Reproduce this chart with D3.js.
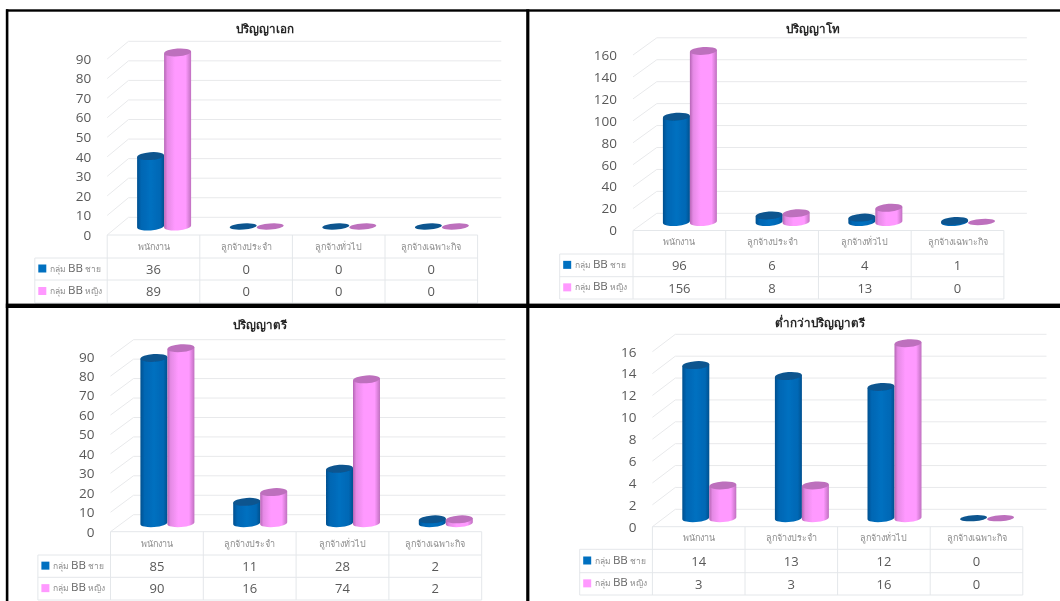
<!DOCTYPE html>
<html lang="th">
<head>
<meta charset="UTF-8">
<title>ระดับการศึกษา</title>
<script src="https://d3js.org/d3.v7.min.js"></script>
<style>
    body { margin: 0; background: #fff; }
    svg { display: block; }
    .axis-y text { font: 13.5px "Open Sans", sans-serif; fill: #595959; }
    .title { font: bold 11.6px "Noto Sans", sans-serif; fill: #262626; text-anchor: middle; }
    .cat { font: 9px "Noto Sans", sans-serif; fill: #8c8c8c; text-anchor: middle; }
    .num { font: 13px "Open Sans", sans-serif; fill: #595959; text-anchor: middle; }
    .key { font: 8.5px "Noto Sans", sans-serif; fill: #8c8c8c; }
    .key .bb { font: 11.5px "Open Sans", sans-serif; fill: #666; }
    .grid { stroke: #e8e9eb; stroke-width: 1; fill: none; }
    .cell { stroke: #e4e7ea; stroke-width: 1; fill: none; }
</style>
</head>
<body>
<svg width="1060" height="601"></svg>
<script>
// Data
const categories = ["พนักงาน", "ลูกจ้างประจำ", "ลูกจ้างทั่วไป", "ลูกจ้างเฉพาะกิจ"];
const seriesKeys = ["male", "female"];
const seriesNames = [["กลุ่ม ", "BB", " ชาย"], ["กลุ่ม ", "BB", " หญิง"]];
const titles = ["ปริญญาเอก", "ปริญญาโท", "ปริญญาตรี", "ต่ำกว่าปริญญาตรี"];
const male = [[36, 0, 0, 0], [96, 6, 4, 1], [85, 11, 28, 2], [14, 13, 12, 0]];
const female = [[89, 0, 0, 0], [156, 8, 13, 0], [90, 16, 74, 2], [3, 3, 16, 0]];
const ticks = [
    [0, 10, 20, 30, 40, 50, 60, 70, 80, 90],
    [0, 20, 40, 60, 80, 100, 120, 140, 160],
    [0, 10, 20, 30, 40, 50, 60, 70, 80, 90],
    [0, 2, 4, 6, 8, 10, 12, 14, 16]
];

// Where each panel sits on the page
const layout = [
    { titleX: 265, titleY: 33, head: 34.8, left: 107.2, right: 477.6, back: 128.5, backRight: 501.3, y0: 235, yTop: 59, depth: 17.7, rows: [235, 258, 280, 303] },
    { titleX: 813.3, titleY: 33, head: 559.7, left: 633, right: 1003.9, back: 656.8, backRight: 1026.9, y0: 230.5, yTop: 55, depth: 17.2, rows: [230.5, 254, 276.7, 299] },
    { titleX: 259.6, titleY: 329, head: 37.9, left: 110.5, right: 481.7, back: 133.5, backRight: 505.4, y0: 531.7, yTop: 356.7, depth: 17, rows: [531.7, 555, 577.3, 600] },
    { titleX: 820, titleY: 327, head: 579.7, left: 652.4, right: 1022.8, back: 675.3, backRight: 1046.5, y0: 526.7, yTop: 351.7, depth: 17.4, rows: [526.7, 549.3, 572.7, 595] }
];

const colors = { male: "#0070c0", female: "#ff99ff" };
const lids = { male: "#0a548f", female: "#bd6fbd" };
const ry = 3.9, tiltDeg = -4;

const svg = d3.select("svg");
const defs = svg.append("defs");

// Slightly soft, the reference is a scanned picture
defs.append("filter").attr("id", "soft")
    .attr("filterUnits", "userSpaceOnUse")
    .attr("x", 0).attr("y", 0).attr("width", 1060).attr("height", 601)
    .append("feGaussianBlur").attr("stdDeviation", 0.6);

const gradStops = {
    male: [[0, "#07508f"], [0.15, "#0066b3"], [0.5, "#0070c0"], [0.85, "#0068b5"], [1, "#05508f"]],
    female: [[0, "#b565b5"], [0.12, "#e58ae5"], [0.4, "#ff99ff"], [0.8, "#ff99ff"], [1, "#c070c0"]]
};
seriesKeys.forEach(k => {
    const grad = defs.append("linearGradient").attr("id", "body-" + k);
    gradStops[k].forEach(s => grad.append("stop").attr("offset", s[0]).attr("stop-color", s[1]));
});

const root = svg.append("g").attr("filter", "url(#soft)");

layout.forEach((p, i) => {
    const g = root.append("g");
    const values = { male: male[i], female: female[i] };
    const maxTick = d3.max(ticks[i]);

    const y = d3.scaleLinear().domain([0, maxTick]).range([p.y0, p.yTop]);
    const x = d3.scaleBand().domain(categories).range([p.left, p.right]);
    const xs = d3.scaleBand().domain(seriesKeys).range([0, 54]);
    const barY = v => y(v) - 8.5;
    const groupShift = 29.9;

    g.append("text").attr("class", "title").attr("x", p.titleX).attr("y", p.titleY).text(titles[i]);

    // Back wall and left wall lines
    g.selectAll(".back-line").data(ticks[i]).enter().append("line")
        .attr("class", "grid")
        .attr("x1", p.back).attr("x2", p.backRight)
        .attr("y1", d => y(d) - p.depth).attr("y2", d => y(d) - p.depth);
    g.selectAll(".side-line").data(ticks[i]).enter().append("line")
        .attr("class", "grid")
        .attr("x1", p.left).attr("x2", p.back)
        .attr("y1", d => y(d)).attr("y2", d => y(d) - p.depth);

    // Y axis, labels only
    g.append("g")
        .attr("class", "axis-y")
        .attr("transform", "translate(" + p.left + ",0)")
        .call(d3.axisLeft(y).tickValues(ticks[i]).tickSize(0).tickPadding(16))
        .call(a => a.select(".domain").remove());

    // Data table
    const table = g.append("g");
    table.append("line").attr("class", "cell").attr("x1", p.left).attr("x2", p.right).attr("y1", p.rows[0]).attr("y2", p.rows[0]);
    p.rows.slice(1).forEach(r => {
        table.append("line").attr("class", "cell").attr("x1", p.head).attr("x2", p.right).attr("y1", r).attr("y2", r);
    });
    table.append("line").attr("class", "cell").attr("x1", p.head).attr("x2", p.head).attr("y1", p.rows[1]).attr("y2", p.rows[3]);
    categories.forEach(c => {
        table.append("line").attr("class", "cell").attr("x1", x(c)).attr("x2", x(c)).attr("y1", p.rows[0]).attr("y2", p.rows[3]);
    });
    table.append("line").attr("class", "cell").attr("x1", p.right).attr("x2", p.right).attr("y1", p.rows[0]).attr("y2", p.rows[3]);

    table.selectAll(".cat").data(categories).enter().append("text")
        .attr("class", "cat")
        .attr("x", d => x(d) + x.bandwidth() / 2)
        .attr("y", (p.rows[0] + p.rows[1]) / 2)
        .attr("dy", "0.35em")
        .text(d => d);

    seriesKeys.forEach((k, s) => {
        const midY = (p.rows[s + 1] + p.rows[s + 2]) / 2;
        table.append("rect")
            .attr("x", p.head + 3.5).attr("y", midY - 4.5)
            .attr("width", 8).attr("height", 8)
            .attr("fill", colors[k]);
        const label = table.append("text").attr("class", "key")
            .attr("x", p.head + 15).attr("y", midY).attr("dy", "0.3em");
        seriesNames[s].forEach(part => {
            label.append("tspan").attr("class", part === "BB" ? "bb" : null)
                .attr("xml:space", "preserve").text(part);
        });
        table.selectAll(".num-" + k).data(categories).enter().append("text")
            .attr("class", "num")
            .attr("x", d => x(d) + x.bandwidth() / 2)
            .attr("y", midY)
            .attr("dy", "0.36em")
            .text((d, j) => values[k][j]);
    });

    // Cylinders
    categories.forEach((c, j) => {
        seriesKeys.forEach(k => {
            const v = values[k][j];
            const rx = xs.bandwidth() / 2;
            const cx = x(c) + groupShift + xs(k) + rx;
            const base = barY(0), top = barY(v);
            const lean = rx * Math.sin(-tiltDeg * Math.PI / 180);
            if (v > 0) {
                g.append("path")
                    .attr("fill", "url(#body-" + k + ")")
                    .attr("d", "M" + (cx - rx) + "," + (top + lean)
                        + "L" + (cx - rx) + "," + (base + lean)
                        + "A" + rx + "," + ry + " " + tiltDeg + " 0 0 " + (cx + rx) + "," + (base - lean)
                        + "L" + (cx + rx) + "," + (top - lean) + "Z");
            }
            g.append("ellipse")
                .attr("cx", cx).attr("cy", top)
                .attr("rx", rx).attr("ry", v > 0 ? ry : 3)
                .attr("transform", "rotate(" + tiltDeg + " " + cx + " " + top + ")")
                .attr("fill", lids[k]);
        });
    });
});

// Black frame between the four pictures
const frame = root.append("g").attr("fill", "#000");
const frameBars = [
    [6, 9.3, 1054, 2.4],
    [5.8, 9.3, 2.6, 591.7],
    [526.2, 9.3, 3.2, 591.7],
    [5.8, 303.6, 1054.2, 4.4]
];
frame.selectAll("rect").data(frameBars).enter().append("rect")
    .attr("x", d => d[0]).attr("y", d => d[1])
    .attr("width", d => d[2]).attr("height", d => d[3]);
</script>
</body>
</html>
